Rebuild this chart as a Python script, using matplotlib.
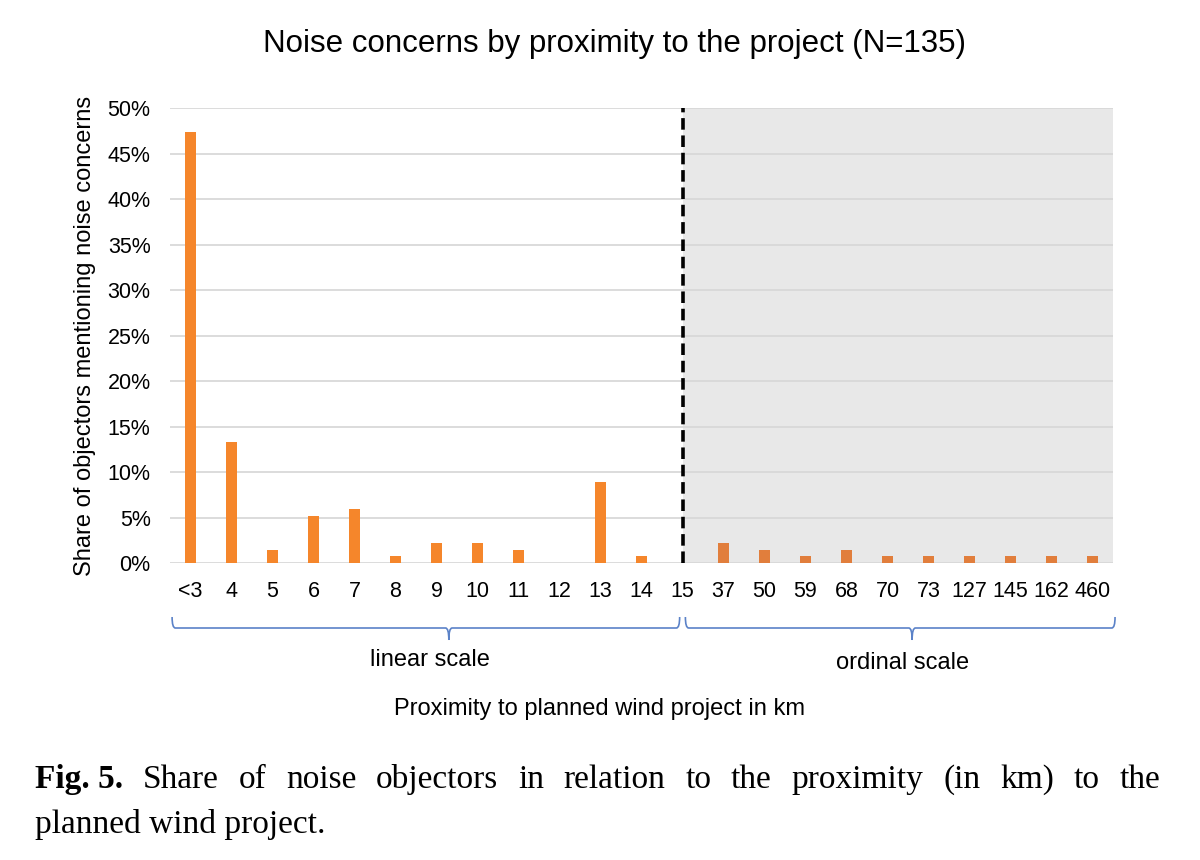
import matplotlib.pyplot as plt
from matplotlib.path import Path
from matplotlib.patches import PathPatch
from matplotlib.transforms import blended_transform_factory
from matplotlib.ticker import PercentFormatter

# Daten
categories = ["<3", "4", "5", "6", "7", "8", "9", "10", "11", "12", "13", "14", "15",
              "37", "50", "59", "68", "70", "73", "127", "145", "162", "460"]
# Anzahl der Einwender je Kategorie (N=135)
counts = [64, 18, 2, 7, 8, 1, 3, 3, 2, 0, 12, 1, 0,
          3, 2, 1, 2, 1, 1, 1, 1, 1, 1]
n_total = 135
shares = [c / n_total for c in counts]
split_index = 12  # "15" -> ab hier ordinale Skala

color_linear = "#F5862B"
color_ordinal = "#E17E3C"
brace_color = "#5B82C8"

plt.rcParams["font.family"] = ["Liberation Sans", "DejaVu Sans"]

fig = plt.figure(figsize=(12, 8.6), dpi=100)
ax = fig.add_axes([0.1417, 0.3453, 0.7858, 0.5291])

x = list(range(len(categories)))
colors = [color_linear if i < split_index else color_ordinal for i in x]
ax.bar(x, shares, width=0.25, color=colors, zorder=3)

ax.set_xlim(-0.5, len(categories) - 0.5)
ax.set_ylim(0, 0.5)
ax.set_yticks([i * 0.05 for i in range(11)])
ax.yaxis.set_major_formatter(PercentFormatter(1.0, decimals=0))
ax.set_xticks(x)
ax.set_xticklabels(categories)
ax.tick_params(axis="both", length=0, labelsize=15.5)
ax.tick_params(axis="x", pad=13)
ax.tick_params(axis="y", pad=14)
for s in ax.spines.values():
    s.set_visible(False)

# Grauer Bereich + Gitter
ax.axvspan(split_index, len(categories) - 0.5, color="#E8E8E8", zorder=0, lw=0)
for yv in ax.get_yticks():
    ax.axhline(yv, xmin=0, xmax=1, color="#D6D6D6", lw=1.2, zorder=1)
ax.axvline(split_index, color="black", lw=2.6, ls=(0, (3.2, 1.6)), zorder=4)

ax.set_ylabel("Share of objectors mentioning noise concerns", fontsize=17, labelpad=8)
ax.set_title("Noise concerns by proximity to the project (N=135)", fontsize=22.5, pad=40,
             x=0.471)

# Geschweifte Klammern unter der Achse
trans = blended_transform_factory(ax.transData, fig.transFigure)
y_top, y_mid, y_bot = 1 - 617 / 860, 1 - 628 / 860, 1 - 640 / 860


def brace(x0, x1, xm):
    r = 0.08
    verts = [(x0, y_top), (x0, y_mid), (x0 + r, y_mid),
             (xm - r, y_mid), (xm, y_mid), (xm, y_bot),
             (xm, y_mid), (xm + r, y_mid),
             (x1 - r, y_mid), (x1, y_mid), (x1, y_top)]
    codes = [Path.MOVETO, Path.CURVE3, Path.CURVE3,
             Path.LINETO, Path.CURVE3, Path.CURVE3,
             Path.CURVE3, Path.CURVE3,
             Path.LINETO, Path.CURVE3, Path.CURVE3]
    p = PathPatch(Path(verts, codes), transform=trans, fill=False,
                  edgecolor=brace_color, lw=1.2, clip_on=False)
    fig.add_artist(p)


brace(-0.45, split_index - 0.07, 6.3)
brace(split_index + 0.07, len(categories) - 0.45, 17.6)
fig.text(430 / 1200, 1 - 660 / 860, "linear scale", ha="center", va="center", fontsize=17)
fig.text(903 / 1200, 1 - 663 / 860, "ordinal scale", ha="center", va="center", fontsize=17)
fig.text(600 / 1200, 1 - 709 / 860, "Proximity to planned wind project in km",
         ha="center", va="center", fontsize=17)

# Bildunterschrift (Blocksatz)
cap_size = 24
cap_left, cap_right = 35 / 1200, 1160 / 1200
line1 = ["Share", "of", "noise", "objectors", "in", "relation", "to", "the",
         "proximity", "(in", "km)", "to", "the"]
renderer = fig.canvas.get_renderer()
words = [fig.text(0, 1 - 788 / 860, "Fig. 5.", fontsize=cap_size, weight="bold",
                  family="Liberation Serif", va="baseline")]
for w in line1:
    words.append(fig.text(0, 1 - 788 / 860, w, fontsize=cap_size,
                          family="Liberation Serif", va="baseline"))
widths = [t.get_window_extent(renderer).width / fig.bbox.width for t in words]
gap = (cap_right - cap_left - sum(widths)) / (len(words) - 1)
xpos = cap_left
for t, wd in zip(words, widths):
    t.set_x(xpos)
    xpos += wd + gap
fig.text(cap_left, 1 - 833 / 860, "planned wind project.", fontsize=cap_size,
         family="Liberation Serif", va="baseline")

fig.savefig("out.png", dpi=100, facecolor="white")
